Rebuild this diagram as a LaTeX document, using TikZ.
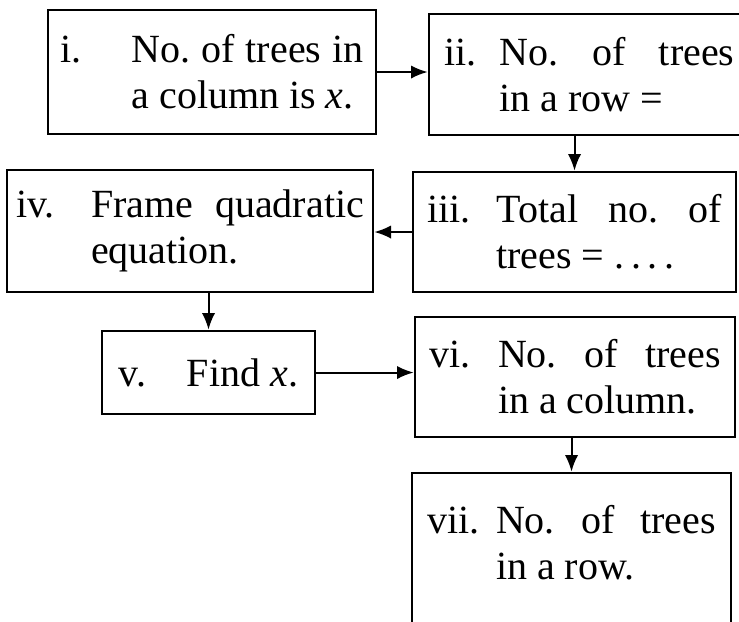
\documentclass[tikz,border=0pt]{standalone}
\usepackage{fontspec}
\setmainfont{Liberation Serif}
\usepackage{tikz}
\usetikzlibrary{arrows.meta,positioning}
\frenchspacing

\begin{document}
\begin{tikzpicture}[x=0.3pt,y=-0.3pt,>={Latex[length=5pt,width=4pt]}]%
            \useasboundingbox (0,0) rectangle (739,621); %%
            \clip (0,0) rectangle (739,621); %%
            \begin{scope}[font=\fontsize{12}{13.8}\selectfont,align=left,line width=.8pt]%
            \tikzstyle{every node}=[draw,rectangle,inner sep=0pt] %%
            \node[minimum width=98.4pt,minimum height=37.2pt] (s1) at (212,72) {\makebox[21.3pt][l]{i.}\makebox[69.6pt][s]{No. of trees in}\\\hspace*{21.3pt}a column is \textit{x}.}; %%
            \node[minimum width=96.3pt,minimum height=36.3pt] (s2) at (589.5,74.5) {\makebox[16.5pt][l]{ii.}\makebox[70.5pt][s]{No. of trees}\\\hspace*{16.5pt}in a row =}; %%
            \node[minimum width=96.9pt,minimum height=36pt] (s3) at (574.5,232) {\makebox[20.7pt][l]{iii.}\makebox[67.5pt][s]{Total no. of}\\\hspace*{20.7pt}trees = .\,.\,.\,.}; %%
            \node[minimum width=109.8pt,minimum height=36.6pt] (s4) at (190,231) {\makebox[22.5pt][l]{iv.}\makebox[81.9pt][s]{Frame quadratic}\\\hspace*{22.5pt}equation.}; %%
            \node[minimum width=63.9pt,minimum height=24.9pt] (s5) at (208.5,372.5) {\makebox[20.4pt][l]{v.}Find \textit{x}.}; %%
            \node[minimum width=96pt,minimum height=36pt] (s6) at (575,377) {\makebox[20.7pt][l]{vi.}\makebox[66.9pt][s]{No. of trees}\\\hspace*{20.7pt}in a column.}; %%
            \node[minimum width=95.7pt,minimum height=55.2pt] (s7) at (571.5,565) {\makebox[20.7pt][l]{vii.}\makebox[66pt][s]{No. of trees}\\\hspace*{20.7pt}in a row.\\\mbox{}}; %%
            \end{scope}
            \draw[->,line width=.6pt] (s1.east)--(s1.east -| s2.west); %%
            \draw[->,line width=.6pt] (s3.north |- s2.south)--(s3.north); %%
            \draw[->,line width=.6pt] (s3.west)--(s3.west -| s4.east); %%
            \draw[->,line width=.6pt] (s5.north |- s4.south)--(s5.north); %%
            \draw[->,line width=.6pt] (s5.east)--(s5.east -| s6.west); %%
            \draw[->,line width=.6pt] (s7.north |- s6.south)--(s7.north); %%
        \end{tikzpicture}
\end{document}
